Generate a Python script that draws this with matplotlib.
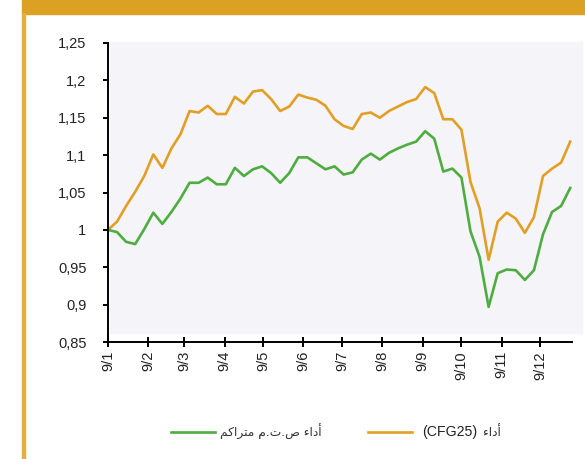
import numpy as np
import pandas as pd
import matplotlib
matplotlib.use('Agg')
import matplotlib.pyplot as plt
from matplotlib.patches import Rectangle
from matplotlib.lines import Line2D
from matplotlib.ticker import FuncFormatter

# weekly values, 2009
cfg25 = [1.000, 1.011, 1.032, 1.051, 1.072, 1.101, 1.083, 1.109, 1.128, 1.159,
         1.157, 1.166, 1.155, 1.155, 1.178, 1.169, 1.185, 1.187, 1.175, 1.159,
         1.165, 1.181, 1.177, 1.174, 1.166, 1.148, 1.139, 1.135, 1.155, 1.157,
         1.150, 1.159, 1.165, 1.171, 1.175, 1.191, 1.183, 1.148, 1.148, 1.134,
         1.064, 1.029, 0.960, 1.011, 1.023, 1.015, 0.996, 1.017, 1.072, 1.082,
         1.090, 1.118]
fund = [1.000, 0.997, 0.984, 0.981, 1.001, 1.023, 1.008, 1.024, 1.042, 1.063,
        1.063, 1.070, 1.061, 1.061, 1.083, 1.072, 1.081, 1.085, 1.076, 1.063,
        1.076, 1.097, 1.097, 1.089, 1.081, 1.085, 1.074, 1.077, 1.094, 1.102,
        1.094, 1.103, 1.109, 1.114, 1.118, 1.132, 1.122, 1.078, 1.082, 1.070,
        0.998, 0.964, 0.897, 0.942, 0.947, 0.946, 0.933, 0.946, 0.994, 1.024,
        1.032, 1.056]
weeks = pd.date_range('2009-01-01', periods=len(fund), freq='7D')
month_ticks = pd.date_range('2009-01-01', periods=12, freq='MS')
month_labels = ['9/1', '9/2', '9/3', '9/4', '9/5', '9/6',
                '9/7', '9/8', '9/9', '9/10', '9/11', '9/12']

# labels already in visual order (presentation forms)
lbl_fund = '\uFEE2\uFEDB\uFE8D\uFEAE\uFE98\uFEE3 \uFEE1.\uFE95.\uFEB9 \uFE80\uFE8D\uFEA9\uFE83'
lbl_cfg = '\uFE80\uFE8D\uFEA9\uFE83'

W, H = 585, 459
gold = '#DBA123'
orange = '#E29F25'
green = '#4EAD3F'

plt.rcParams['font.family'] = ['Liberation Sans', 'DejaVu Sans']
fig = plt.figure(figsize=(W / 100, H / 100), dpi=100)

def px(x0, y0, x1, y1):
    # pixel box -> figure fraction rect
    return (x0 / W, 1 - y1 / H, (x1 - x0) / W, (y1 - y0) / H)

def add_box(x0, y0, x1, y1, c):
    r = px(x0, y0, x1, y1)
    fig.patches.append(Rectangle(r[:2], r[2], r[3], transform=fig.transFigure,
                                 color=c, zorder=-5))

add_box(22, 0, W, 13.5, gold)        # banner
add_box(22, 13, 24.5, H, '#E3AE3C')  # side rule
add_box(110, 42, 582, 333, '#F4F4F9')  # plot area fill

ax = fig.add_axes(px(108, 43, 572, 342))
ax.patch.set_alpha(0)
ax.plot(weeks, cfg25, color=orange, lw=1.9)
ax.plot(weeks, fund, color=green, lw=1.9)

ax.set_ylim(0.85, 1.25)
ax.set_yticks(np.arange(0.85, 1.2501, 0.05))
ax.yaxis.set_major_formatter(FuncFormatter(lambda v, p: f'{round(v, 2):g}'.replace('.', ',')))
ax.set_xlim(weeks[0], weeks[0] + pd.Timedelta(days=7 * 51.2))
ax.set_xticks(month_ticks)
ax.set_xticklabels(month_labels, rotation=90)

for s in ['top', 'right']:
    ax.spines[s].set_visible(False)
for s in ['left', 'bottom']:
    ax.spines[s].set_linewidth(1.4)
ax.tick_params(axis='y', direction='out', length=3.5, width=1.4, labelsize=10.5,
               labelcolor='#222222', pad=12)
ax.tick_params(axis='x', direction='inout', length=7, width=1.4, labelsize=10.5,
               labelcolor='#222222', pad=3)

# legend
ly = 1 - 432 / H
fig.add_artist(Line2D([171 / W, 215 / W], [ly, ly], color=green, lw=1.9, transform=fig.transFigure))
fig.text(322 / W, ly, lbl_fund, ha='right', va='center', fontsize=8.8, family='DejaVu Sans', color='#333333')
fig.add_artist(Line2D([368 / W, 412 / W], [ly, ly], color=orange, lw=1.9, transform=fig.transFigure))
fig.text(422 / W, ly, '(CFG25)', ha='left', va='center', fontsize=10.2, color='#222222')
fig.text(483 / W, ly, lbl_cfg, ha='left', va='center', fontsize=8.8, family='DejaVu Sans', color='#333333')

fig.savefig('out.png', dpi=100)
